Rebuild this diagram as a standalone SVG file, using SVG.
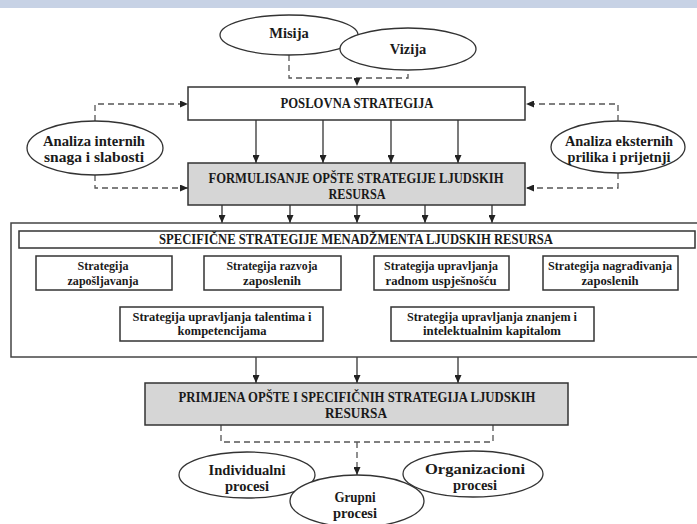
<svg xmlns="http://www.w3.org/2000/svg" width="697" height="524" viewBox="0 0 697 524">
<defs>
<marker id="ah" markerUnits="userSpaceOnUse" markerWidth="8" markerHeight="7" refX="8" refY="3.5" orient="auto">
<path d="M0,0 L8,3.5 L0,7 z" fill="#222"/>
</marker>
<style>
.t{font-family:"Liberation Serif","Times New Roman",serif;font-weight:bold;fill:#1a1a1a;text-anchor:middle}
.c{font-size:15px}
.s{font-size:13px}
.e{font-size:14.5px}
.box{fill:#fff;stroke:#333;stroke-width:1.5}
.gbox{fill:#d6d6d6;stroke:#333;stroke-width:1.5}
.ell{fill:#fff;stroke:#333;stroke-width:1.3}
.sol{fill:none;stroke:#222;stroke-width:1.2}
.dash{fill:none;stroke:#555;stroke-width:1.3;stroke-dasharray:6 4}
</style>
</defs>
<rect x="0" y="0" width="697" height="524" fill="#fff"/>
<rect x="0" y="0" width="697" height="8" fill="#c7d2e5"/>

<g id="connectors">
<path class="dash" d="M289 55 V78 H408 V70"/>
<path class="dash" d="M357 78 V86" marker-end="url(#ah)"/>
<path class="dash" d="M95 121 V104 H188" marker-end="url(#ah)"/>
<path class="dash" d="M95 175 V188 H188" marker-end="url(#ah)"/>
<path class="dash" d="M618 121 V104 H526" marker-end="url(#ah)"/>
<path class="dash" d="M618 173 V188 H526" marker-end="url(#ah)"/>
<path class="sol" d="M256 120 V163" marker-end="url(#ah)"/>
<path class="sol" d="M323 120 V163" marker-end="url(#ah)"/>
<path class="sol" d="M391 120 V163" marker-end="url(#ah)"/>
<path class="sol" d="M458 120 V163" marker-end="url(#ah)"/>
<path class="sol" d="M222 205 V223" marker-end="url(#ah)"/>
<path class="sol" d="M290 205 V223" marker-end="url(#ah)"/>
<path class="sol" d="M357 205 V223" marker-end="url(#ah)"/>
<path class="sol" d="M425 205 V223" marker-end="url(#ah)"/>
<path class="sol" d="M492 205 V223" marker-end="url(#ah)"/>
<path class="sol" d="M256 357 V383" marker-end="url(#ah)"/>
<path class="sol" d="M357 357 V383" marker-end="url(#ah)"/>
<path class="sol" d="M458 357 V383" marker-end="url(#ah)"/>
<path class="dash" d="M221 425 V442 H493 V425"/>
<path class="dash" d="M357 442 V475" marker-end="url(#ah)"/>
</g>

<g id="misija">
<ellipse class="ell" cx="289" cy="35" rx="69" ry="20"/>
<text class="t e" x="289" y="38">Misija</text>
</g>
<g id="vizija">
<ellipse class="ell" cx="408" cy="49" rx="68" ry="21"/>
<text class="t e" x="408" y="54">Vizija</text>
</g>

<g id="poslovna">
<rect class="box" x="188" y="87" width="337" height="33"/>
<text class="t c" x="357" y="108" textLength="153" lengthAdjust="spacingAndGlyphs">POSLOVNA STRATEGIJA</text>
</g>

<g id="interni">
<ellipse class="ell" cx="95" cy="148" rx="68" ry="27"/>
<text class="t e" x="94" y="146" textLength="102" lengthAdjust="spacingAndGlyphs">Analiza internih</text>
<text class="t e" x="94" y="162" textLength="100" lengthAdjust="spacingAndGlyphs">snaga i slabosti</text>
</g>
<g id="eksterni">
<ellipse class="ell" cx="618" cy="147" rx="67" ry="26"/>
<text class="t e" x="619" y="146" textLength="108" lengthAdjust="spacingAndGlyphs">Analiza eksternih</text>
<text class="t e" x="619" y="162" textLength="103" lengthAdjust="spacingAndGlyphs">prilika i prijetnji</text>
</g>

<g id="formulisanje">
<rect class="gbox" x="188" y="163" width="337" height="42"/>
<text class="t c" x="356" y="183" textLength="295" lengthAdjust="spacingAndGlyphs">FORMULISANJE OPŠTE STRATEGIJE LJUDSKIH</text>
<text class="t c" x="357" y="199" textLength="57" lengthAdjust="spacingAndGlyphs">RESURSA</text>
</g>

<g id="specificne">
<rect x="11" y="223" width="700" height="134" fill="#fff" stroke="#444" stroke-width="1.5"/>
<rect class="box" x="19" y="231" width="676" height="17"/>
<text class="t c" x="356" y="244" textLength="394" lengthAdjust="spacingAndGlyphs">SPECIFIČNE STRATEGIJE MENADŽMENTA LJUDSKIH RESURSA</text>
</g>

<g id="s1">
<rect class="box" x="36" y="256" width="136" height="34"/>
<text class="t s" x="103" y="270" textLength="51" lengthAdjust="spacingAndGlyphs">Strategija</text>
<text class="t s" x="103" y="285" textLength="71" lengthAdjust="spacingAndGlyphs">zapošljavanja</text>
</g>
<g id="s2">
<rect class="box" x="204" y="256" width="137" height="34"/>
<text class="t s" x="272" y="270" textLength="91" lengthAdjust="spacingAndGlyphs">Strategija razvoja</text>
<text class="t s" x="272" y="285" textLength="58" lengthAdjust="spacingAndGlyphs">zaposlenih</text>
</g>
<g id="s3">
<rect class="box" x="374" y="256" width="135" height="34"/>
<text class="t s" x="441" y="270" textLength="114" lengthAdjust="spacingAndGlyphs">Strategija upravljanja</text>
<text class="t s" x="441" y="285" textLength="111" lengthAdjust="spacingAndGlyphs">radnom uspješnošću</text>
</g>
<g id="s4">
<rect class="box" x="543" y="256" width="135" height="34"/>
<text class="t s" x="610" y="270" textLength="124" lengthAdjust="spacingAndGlyphs">Strategija nagrađivanja</text>
<text class="t s" x="610" y="285" textLength="57" lengthAdjust="spacingAndGlyphs">zaposlenih</text>
</g>
<g id="s5">
<rect class="box" x="120" y="307" width="203" height="34"/>
<text class="t s" x="222" y="321" textLength="179" lengthAdjust="spacingAndGlyphs">Strategija upravljanja talentima i</text>
<text class="t s" x="222" y="335" textLength="89" lengthAdjust="spacingAndGlyphs">kompetencijama</text>
</g>
<g id="s6">
<rect class="box" x="391" y="307" width="203" height="34"/>
<text class="t s" x="492" y="321" textLength="170" lengthAdjust="spacingAndGlyphs">Strategija upravljanja znanjem i</text>
<text class="t s" x="492" y="335" textLength="138" lengthAdjust="spacingAndGlyphs">intelektualnim kapitalom</text>
</g>

<g id="primjena">
<rect class="gbox" x="145" y="383" width="423" height="42"/>
<text class="t c" x="357" y="402" textLength="357" lengthAdjust="spacingAndGlyphs">PRIMJENA OPŠTE I SPECIFIČNIH STRATEGIJA LJUDSKIH</text>
<text class="t c" x="356" y="418" textLength="62" lengthAdjust="spacingAndGlyphs">RESURSA</text>
</g>

<g id="individualni">
<ellipse class="ell" cx="247" cy="475" rx="68" ry="23"/>
<text class="t e" x="247" y="475" textLength="77" lengthAdjust="spacingAndGlyphs">Individualni</text>
<text class="t e" x="247" y="491" textLength="44" lengthAdjust="spacingAndGlyphs">procesi</text>
</g>
<g id="organizacioni">
<ellipse class="ell" cx="473" cy="474" rx="70" ry="23"/>
<text class="t e" x="475" y="474" textLength="100" lengthAdjust="spacingAndGlyphs">Organizacioni</text>
<text class="t e" x="475" y="490" textLength="44" lengthAdjust="spacingAndGlyphs">procesi</text>
</g>
<g id="grupni">
<ellipse class="ell" cx="357" cy="501" rx="67" ry="26"/>
<text class="t e" x="355" y="502" textLength="41" lengthAdjust="spacingAndGlyphs">Grupni</text>
<text class="t e" x="355" y="518" textLength="44" lengthAdjust="spacingAndGlyphs">procesi</text>
</g>
</svg>
